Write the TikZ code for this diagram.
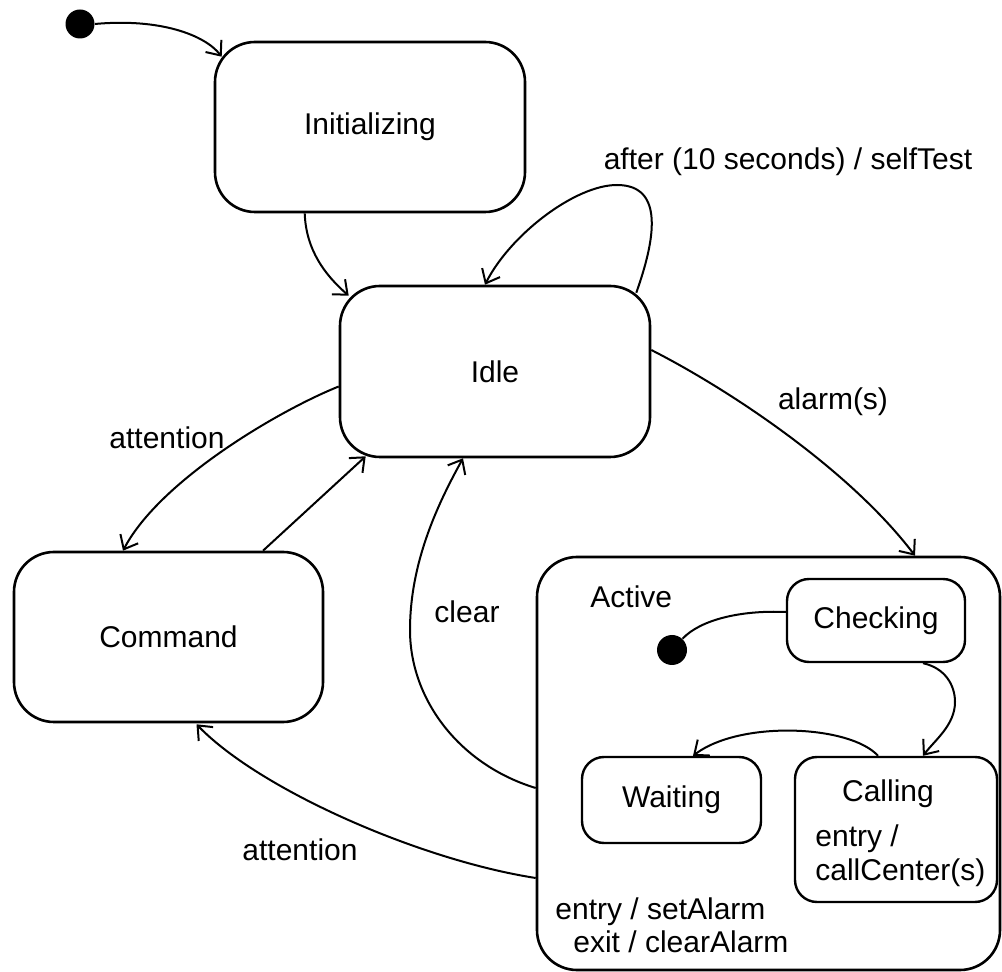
\documentclass[tikz,border=0pt]{standalone}
\usepackage{fontspec}
\setmainfont{Liberation Sans}
\usetikzlibrary{arrows.meta,calc}
\begin{document}
\begin{tikzpicture}[x=0.5pt,y=-0.5pt,
  font=\fontsize{15}{18}\selectfont,
  state/.style={draw, line width=1.3pt, rounded corners=20pt, inner sep=0pt},
  sstate/.style={draw, line width=1.2pt, rounded corners=11pt, inner sep=0pt},
  dot/.style={circle, fill=black, inner sep=0pt, minimum size=14.5pt},
  trans/.style={line width=1pt, -{Straight Barb[length=6pt,width=10pt]}},
  plain/.style={line width=1pt},
  lbl/.style={inner sep=0pt}]
\useasboundingbox (0,0) rectangle (1002,972);

% states
\node[dot] (start) at (80,24) {};
\node[state, minimum width=155pt, minimum height=85pt] (init) at (370,127) {Initializing};
\node[state, minimum width=155pt, minimum height=85.5pt] (idle) at (495,371.5) {Idle};
\node[state, minimum width=154.5pt, minimum height=85pt] (command) at (168.5,637) {Command};
\node[state, minimum width=231.5pt, minimum height=206.5pt] (active) at (768.5,763.5) {};
\node[sstate, minimum width=89pt, minimum height=41.5pt] (checking) at (876,620.5) {Checking};
\node[sstate, minimum width=89.5pt, minimum height=43pt] (waiting) at (671.5,800) {Waiting};
\node[sstate, minimum width=101pt, minimum height=72.5pt] (calling) at (896,829.5) {};
\node[dot, minimum size=15pt] (idot) at (672,650) {};

% texts inside composite states
\node[lbl, anchor=base west] (activename) at (590,608) {Active};
\node[lbl, anchor=base] (callingname) at (888,802) {Calling};
\node[lbl, anchor=base west] (callentry) at (815,847) {entry /};
\node[lbl, anchor=base west] (callcenter) at (815,880) {callCenter(s)};
\node[lbl, anchor=base west] (actentry) at (555,920) {entry / setAlarm};
\node[lbl, anchor=base west] (actexit) at (573,952) {exit / clearAlarm};

% transitions
\draw[trans] (start.east) .. controls (160,18) and (205,35) .. ($(init.north west)+(8,16)$);
\draw[trans] ($(init.south west)+(91,0)$) .. controls (306,250) and (325,275) .. ($(idle.north west)+(10,11)$);
\draw[trans] ($(idle.north east)+(-15,8)$) .. controls (655,240) and (665,185) .. (617,185)
   .. controls (575,185) and (510,235) .. ($(idle.north)+(-10,0)$);
\draw[trans] ($(idle.east)+(0,-21.5)$) .. controls (730,390) and (850,470) .. ($(active.north)+(146.5,0)$);
\draw[trans] ($(idle.west)+(0,15)$) .. controls (280,410) and (160,480) .. ($(command.north)+(-45.5,0)$);
\draw[trans] ($(command.north)+(94.5,0)$) -- ($(idle.south west)+(27,-2)$);
\draw[trans] ($(active.west)+(0,24.5)$) .. controls (460,765) and (410,700) .. (410,630)
   .. controls (410,560) and (440,500) .. ($(idle.south)+(-32,0)$);
\draw[trans] ($(active.west)+(0,114.5)$) .. controls (420,860) and (260,790) .. ($(command.south)+(28,1)$);
\draw[trans] ($(checking.south)+(47,0)$) .. controls (945,668) and (955,685) .. (955,702)
   .. controls (955,725) and (935,740) .. ($(calling.north)+(27,0)$);
\draw[trans] ($(calling.north)+(-18,0)$) .. controls (850,725) and (740,720) .. ($(waiting.north)+(21.5,0)$);
\draw[plain] ($(checking.west)+(0,-8.5)$) .. controls (740,610) and (700,620) .. (idot);

% transition labels
\node[lbl] (lafter) at (788,162) {after (10 seconds) / selfTest};
\node[lbl] (lalarm) at (833,402) {alarm(s)};
\node[lbl] (latt1) at (167,438) {attention};
\node[lbl] (lclear) at (467,612) {clear};
\node[lbl] (latt2) at (300,850) {attention};
\end{tikzpicture}
\end{document}
